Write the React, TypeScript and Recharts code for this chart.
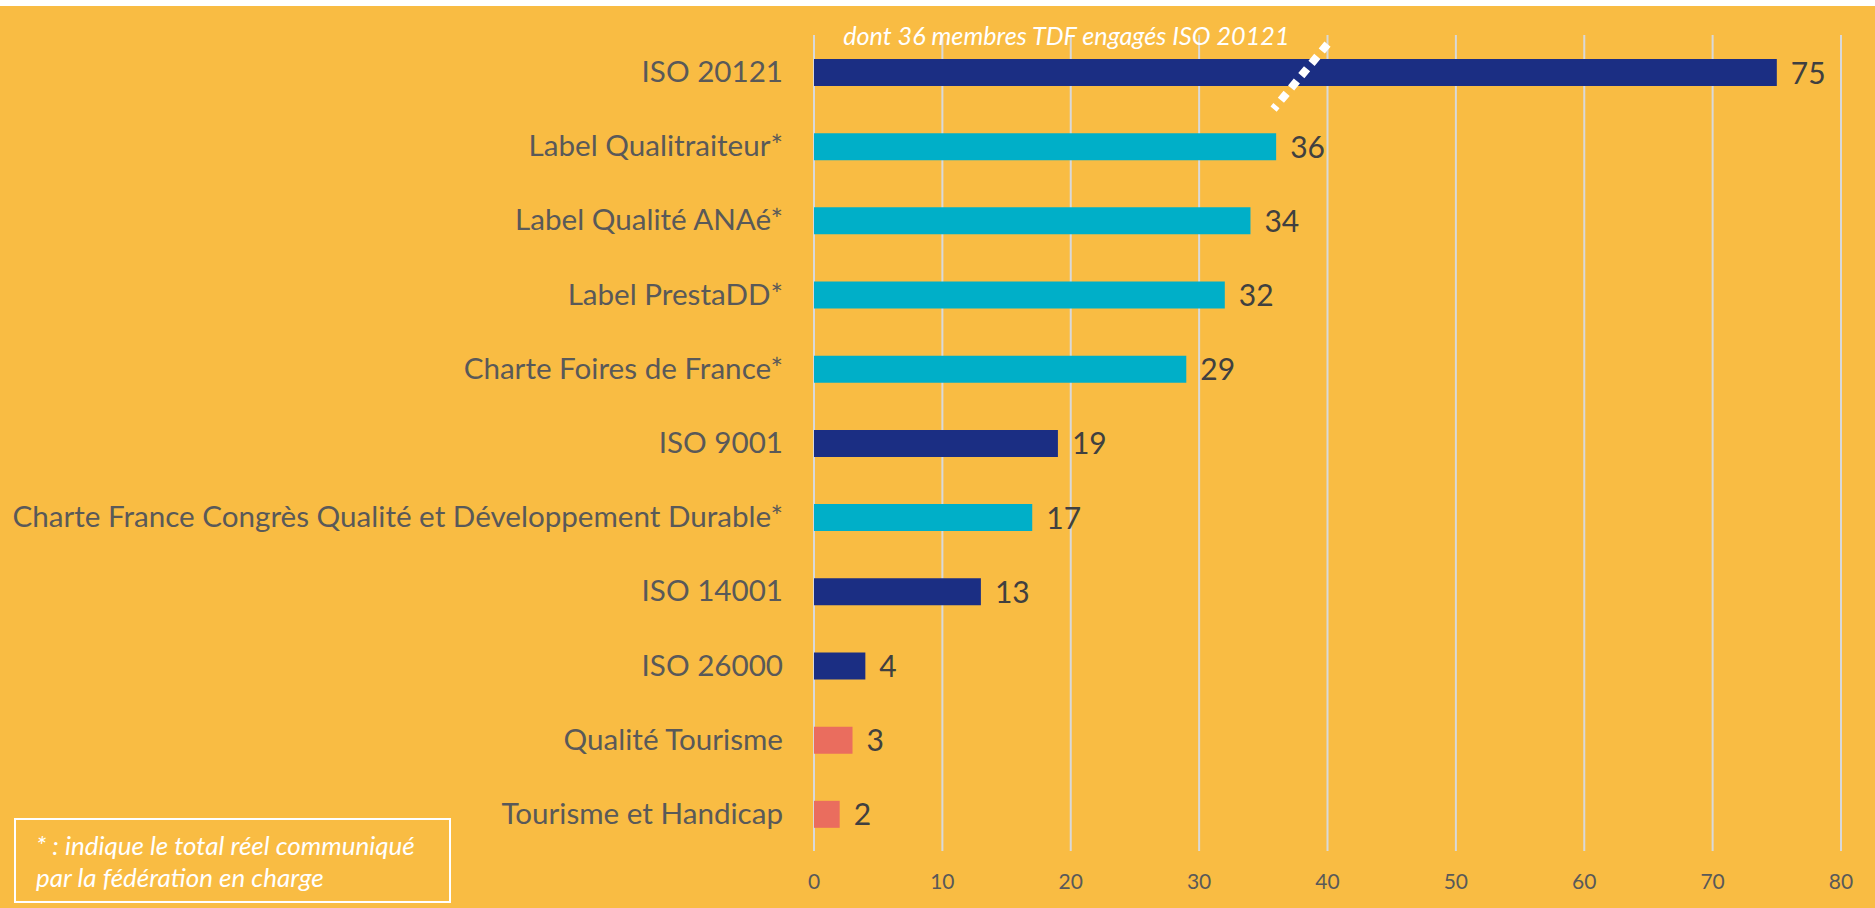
import React from 'react';
import { BarChart, Bar, XAxis, YAxis, CartesianGrid, Cell, LabelList, ReferenceLine } from 'recharts';

const categories = [
  'ISO 20121',
  'Label Qualitraiteur*',
  'Label Qualité ANAé*',
  'Label PrestaDD*',
  'Charte Foires de France*',
  'ISO 9001',
  'Charte France Congrès Qualité et Développement Durable*',
  'ISO 14001',
  'ISO 26000',
  'Qualité Tourisme',
  'Tourisme et Handicap',
];
const values = [75, 36, 34, 32, 29, 19, 17, 13, 4, 3, 2];
const groups = ['iso', 'label', 'label', 'label', 'label', 'iso', 'label', 'iso', 'iso', 'tourisme', 'tourisme'];
const xTicks = [0, 10, 20, 30, 40, 50, 60, 70, 80];
const annotationText = 'dont 36 membres TDF engagés ISO 20121';
const breakFrom = 35.8;
const breakTo = 40;
const footnoteLines = ['* : indique le total réel communiqué', 'par la fédération en charge'];

const groupColors: Record<string, string> = {
  iso: '#1B2E83',
  label: '#00AFC8',
  tourisme: '#EA6D5E',
};

const data = categories.map((name, i) => ({ name, value: values[i], group: groups[i] }));

const FONT = 'Lato, "Open Sans", sans-serif';

const YTick = (props: any) => {
  const { x, y, payload } = props;
  return (
    <text x={x - 31} y={y} dy={10} textAnchor="end" fill="#595959" fontSize={29.6} fontFamily={FONT}>
      {payload.value}
    </text>
  );
};

const XTick = (props: any) => {
  const { x, y, payload } = props;
  return (
    <text x={x} y={y + 38} textAnchor="middle" fill="#595959" fontSize={21} fontFamily={FONT}>
      {payload.value}
    </text>
  );
};

const ValueLabel = (props: any) => {
  const { x, y, width, height, value } = props;
  return (
    <text x={x + width + 14} y={y + height / 2 + 11} fill="#404040" fontSize={30} fontFamily={FONT}>
      {value}
    </text>
  );
};

const BreakShape = (props: any) => {
  const { x1, y1, x2 } = props;
  return (
    <g>
      <line
        x1={x2}
        y1={y1 - 28}
        x2={x1}
        y2={y1 + 37}
        stroke="#FFFFFF"
        strokeWidth={8}
        strokeDasharray="9 7"
      />
      <text
        x={x2 - 38}
        y={y1 - 27}
        textAnchor="end"
        fill="#FFFFFF"
        fontSize={25.2}
        fontStyle="italic"
        fontFamily={FONT}
      >
        {annotationText}
      </text>
    </g>
  );
};

export default function App() {
  return (
    <div style={{ position: 'absolute', left: 0, top: 0, width: 1875, height: 908, background: '#FFFFFF' }}>
      <div style={{ position: 'absolute', left: 0, top: 6, width: 1875, height: 902, background: '#F9BC43' }}>
        <BarChart
          width={1875}
          height={902}
          data={data}
          layout="vertical"
          margin={{ top: 29, right: 34, left: 0, bottom: 0 }}
        >
          <CartesianGrid horizontal={false} vertical={true} stroke="#D9D9D9" strokeWidth={2} />
          <XAxis
            type="number"
            domain={[0, 80]}
            ticks={xTicks}
            height={57}
            axisLine={false}
            tickLine={false}
            tickSize={0}
            tickMargin={0}
            tick={<XTick />}
            interval={0}
          />
          <YAxis
            type="category"
            dataKey="name"
            width={814}
            axisLine={false}
            tickLine={false}
            tickSize={0}
            tickMargin={0}
            tick={<YTick />}
            interval={0}
          />
          <Bar dataKey="value" barSize={27} isAnimationActive={false}>
            {data.map((d, i) => (
              <Cell key={i} fill={groupColors[d.group]} />
            ))}
            <LabelList dataKey="value" content={<ValueLabel />} />
          </Bar>
          <ReferenceLine
            segment={[
              { x: breakFrom, y: categories[0] },
              { x: breakTo, y: categories[0] },
            ]}
            shape={<BreakShape />}
            ifOverflow="visible"
          />
        </BarChart>
        <svg
          width={1875}
          height={902}
          style={{ position: 'absolute', left: 0, top: 0, pointerEvents: 'none' }}
        >
          <rect x={15} y={813} width={435} height={83} fill="none" stroke="#FFFFFF" strokeWidth={2} />
          {footnoteLines.map((line, i) => (
            <text
              key={i}
              x={36}
              y={849 + i * 32}
              fill="#FFFFFF"
              fontSize={26}
              fontStyle="italic"
              fontFamily={FONT}
            >
              {line}
            </text>
          ))}
        </svg>
      </div>
    </div>
  );
}
